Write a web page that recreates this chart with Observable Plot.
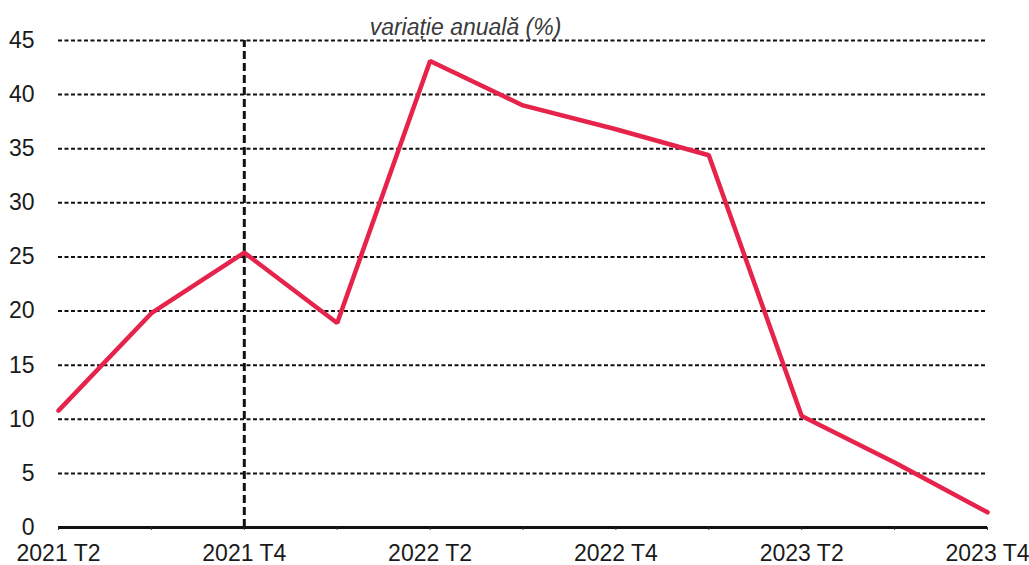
<!DOCTYPE html>
<html>
<head>
<meta charset="utf-8">
<script src="https://cdn.jsdelivr.net/npm/d3@7"></script>
<script src="https://cdn.jsdelivr.net/npm/@observablehq/plot@0.6"></script>
<style>
  html, body { margin: 0; padding: 0; background: #fff; }
  svg { display: block; }
</style>
</head>
<body>
<div id="chart"></div>
<script>
const quarters = ["2021 T2","2021 T3","2021 T4","2022 T1","2022 T2","2022 T3","2022 T4","2023 T1","2023 T2","2023 T3","2023 T4"];
const values = [10.8, 19.8, 25.4, 18.9, 43.1, 39.0, 36.8, 34.4, 10.3, 6.0, 1.4];
const labelQuarters = ["2021 T2","2021 T4","2022 T2","2022 T4","2023 T2","2023 T4"];
const yTicks = [0,5,10,15,20,25,30,35,40,45];
const gridValues = [5,10,15,20,25,30,35,40,45];
const markerQuarter = ["2021 T4"];
const title = "variație anuală (%)";

const data = quarters.map((q, i) => ({q, v: values[i]}));

const chart = Plot.plot({
  width: 1029,
  height: 565,
  marginLeft: 58,
  marginRight: 42,
  marginTop: 40,
  marginBottom: 38,
  style: {fontFamily: "'Liberation Sans', Arial, sans-serif", fontSize: "23px", color: "#1a1a1a", background: "#fff"},
  x: {type: "point", domain: quarters, range: [58, 987], padding: 0, round: false, label: null},
  y: {domain: [0, 45], range: [527, 40], label: null},
  marks: [
    Plot.ruleY(gridValues, {stroke: "#111", strokeWidth: 2, strokeDasharray: "4,2.5"}),
    Plot.ruleX(markerQuarter, {y1: 0, y2: 45, stroke: "#111", strokeWidth: 3, strokeDasharray: "8,4"}),
    Plot.ruleY([0], {stroke: "#111", strokeWidth: 3}),
    Plot.axisX(quarters, {tickSize: 3, tickFormat: () => "", stroke: "#333", label: null}),
    Plot.axisX(labelQuarters, {tickSize: 0, tickPadding: 17, fontSize: 23, fill: "#1a1a1a", label: null}),
    Plot.axisY(yTicks, {tickSize: 0, tickPadding: 24, fontSize: 23, fill: "#1a1a1a", label: null}),
    Plot.line(data, {x: "q", y: "v", stroke: "#e5234b", strokeWidth: 4.5, strokeLinejoin: "miter"}),
    Plot.text([title], {frameAnchor: "top-left", dx: 407, dy: -6, lineAnchor: "bottom", text: d => d, textAnchor: "middle", fontStyle: "italic", fontSize: 23, fill: "#3a3a3a"})
  ]
});
document.getElementById("chart").appendChild(chart);
</script>
</body>
</html>
